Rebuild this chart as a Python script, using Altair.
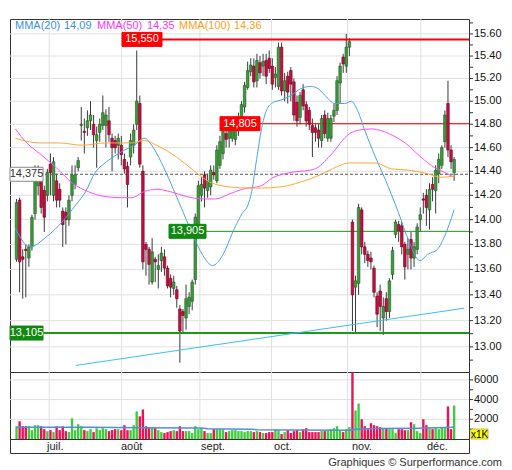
import altair as alt
import pandas as pd

# ---------------- data ----------------
opens = [13.68, 14.16, 13.70, 13.76, 13.69, 13.78, 14.05, 14.28, 14.37, 14.24,
         14.20, 14.46, 14.20, 14.32, 14.25, 14.07, 14.06, 14.00, 14.20, 14.29,
         14.43, 14.79, 14.74, 14.77, 14.83, 14.80, 14.66, 14.73, 14.79, 14.79,
         14.83, 14.68, 14.66, 14.62, 14.62, 14.50, 14.44, 14.52, 14.62, 14.80,
         14.98, 14.40, 13.80, 13.76, 13.50, 13.68, 13.60, 13.67, 13.70, 13.61,
         13.53, 13.45, 13.44, 13.29, 13.27, 13.22, 13.31, 13.35, 13.52, 13.92,
         14.20, 14.37, 14.24, 14.27, 14.39, 14.32, 14.45, 14.55, 14.72, 14.68,
         14.68, 14.67, 14.75, 14.85, 14.95, 15.12, 15.26, 15.31, 15.18, 15.34,
         15.31, 15.36, 15.38, 15.31, 15.21, 15.13, 15.48, 15.09, 15.22, 15.27,
         15.17, 14.99, 14.86, 15.10, 14.97, 14.92, 14.79, 14.77, 14.75, 14.66,
         14.88, 14.68, 14.68, 14.87, 14.92, 15.16, 15.39, 15.31, 15.48, 13.98,
         13.46, 13.49, 14.08, 13.78, 13.72, 13.69, 13.61, 13.39, 13.43, 13.22,
         13.37, 13.27, 13.56, 13.88, 13.96, 13.95, 13.80, 13.72, 13.84, 13.69,
         13.76, 14.00, 14.17, 14.20, 14.08, 14.29, 14.24, 14.38, 14.45, 14.65,
         14.98, 14.58, 14.39]
highs = [14.17, 14.18, 13.76, 13.80, 13.80, 14.04, 14.45, 14.45, 14.40, 14.28,
         14.42, 14.55, 14.52, 14.38, 14.30, 14.10, 14.10, 14.20, 14.45, 14.45,
         14.52, 14.95, 14.85, 14.92, 15.00, 14.88, 14.78, 14.85, 15.05, 14.93,
         14.95, 14.72, 14.70, 14.72, 14.70, 14.55, 14.48, 14.72, 14.80, 15.45,
         15.05, 14.45, 13.82, 13.78, 13.85, 13.70, 13.72, 13.78, 13.76, 13.63,
         13.56, 13.55, 13.47, 13.32, 13.29, 13.48, 13.42, 13.52, 14.05, 14.32,
         14.35, 14.40, 14.38, 14.45, 14.45, 14.62, 14.70, 14.85, 14.78, 14.80,
         14.80, 14.80, 14.90, 15.00, 15.17, 15.35, 15.38, 15.38, 15.42, 15.40,
         15.42, 15.42, 15.45, 15.38, 15.30, 15.52, 15.52, 15.25, 15.26, 15.30,
         15.20, 15.05, 15.08, 15.15, 15.00, 14.95, 14.85, 14.80, 14.80, 14.88,
         14.92, 14.90, 14.88, 14.98, 15.22, 15.34, 15.42, 15.60, 15.56, 14.00,
         13.55, 14.13, 14.10, 13.82, 13.75, 13.74, 13.63, 13.42, 13.48, 13.38,
         13.42, 13.53, 13.78, 14.00, 13.99, 13.98, 13.82, 13.85, 13.90, 13.82,
         13.97, 14.10, 14.22, 14.25, 14.30, 14.35, 14.45, 14.55, 14.62, 14.92,
         15.18, 14.62, 14.52]
lows = [13.66, 13.42, 13.37, 13.38, 13.62, 13.75, 14.00, 14.20, 14.05, 13.90,
        14.15, 14.20, 14.15, 14.10, 14.10, 13.78, 13.80, 13.95, 14.15, 14.25,
        14.40, 14.66, 14.55, 14.70, 14.75, 14.60, 14.43, 14.65, 14.75, 14.60,
        14.65, 14.40, 14.55, 14.50, 14.45, 14.38, 14.10, 14.45, 14.55, 14.75,
        14.43, 13.60, 13.55, 13.48, 13.48, 13.50, 13.45, 13.58, 13.55, 13.45,
        13.38, 13.40, 13.30, 12.88, 13.11, 13.13, 13.25, 13.28, 13.48, 13.85,
        14.15, 14.10, 14.18, 14.20, 14.33, 14.30, 14.42, 14.50, 14.60, 14.60,
        14.65, 14.62, 14.70, 14.80, 14.90, 15.10, 15.22, 15.12, 15.12, 15.20,
        15.22, 15.15, 15.25, 15.10, 15.12, 15.10, 15.05, 15.00, 14.98, 15.00,
        14.83, 14.78, 14.80, 14.92, 14.78, 14.75, 14.52, 14.65, 14.60, 14.60,
        14.68, 14.65, 14.65, 14.82, 14.88, 14.98, 15.25, 15.25, 15.40, 13.12,
        13.10, 13.40, 13.72, 13.65, 13.62, 13.60, 13.38, 13.15, 13.12, 13.09,
        13.20, 13.22, 13.52, 13.85, 13.82, 13.72, 13.52, 13.60, 13.60, 13.62,
        13.72, 13.90, 14.05, 13.95, 13.92, 14.15, 14.05, 14.30, 14.42, 14.60,
        14.52, 14.42, 14.32]
closes = [14.14, 13.66, 13.68, 13.75, 13.78, 14.02, 14.32, 14.40, 14.10, 14.02,
          14.39, 14.39, 14.48, 14.16, 14.16, 13.96, 14.00, 14.16, 14.37, 14.37,
          14.49, 14.80, 14.73, 14.83, 14.88, 14.71, 14.71, 14.80, 14.90, 14.88,
          14.71, 14.60, 14.60, 14.68, 14.54, 14.42, 14.29, 14.66, 14.75, 15.00,
          14.46, 13.66, 13.76, 13.64, 13.74, 13.66, 13.63, 13.73, 13.61, 13.47,
          13.46, 13.50, 13.37, 13.12, 13.24, 13.37, 13.38, 13.50, 14.02, 14.28,
          14.29, 14.26, 14.32, 14.41, 14.37, 14.58, 14.65, 14.74, 14.67, 14.75,
          14.75, 14.76, 14.83, 14.97, 15.14, 15.27, 15.32, 15.17, 15.36, 15.25,
          15.35, 15.22, 15.29, 15.15, 15.24, 15.48, 15.09, 15.18, 15.08, 15.15,
          14.88, 14.83, 15.05, 14.96, 14.83, 14.80, 14.73, 14.73, 14.68, 14.85,
          14.72, 14.85, 14.85, 14.92, 15.18, 15.31, 15.33, 15.48, 15.53, 13.40,
          13.51, 14.10, 13.78, 13.72, 13.67, 13.66, 13.42, 13.25, 13.31, 13.31,
          13.27, 13.51, 13.75, 13.98, 13.91, 13.78, 13.62, 13.76, 13.69, 13.78,
          13.94, 14.04, 14.16, 14.10, 14.25, 14.25, 14.41, 14.50, 14.60, 14.88,
          14.58, 14.48, 14.50]
volumes = [1300, 1800, 1300, 1300, 1300, 900, 1400, 1400, 1300, 1000,
           800, 900, 700, 1300, 900, 1300, 800, 700, 2100, 900,
           1500, 1300, 900, 800, 1000, 700, 1100, 900, 1100, 1000,
           800, 900, 1000, 1000, 900, 1400, 900, 900, 1400, 2800,
           2300, 3000, 1300, 1200, 1200, 1100, 900, 700, 600, 700,
           800, 900, 800, 1300, 800, 800, 800, 600, 1300, 1000,
           1100, 800, 600, 600, 1000, 1000, 1000, 1000, 700, 800,
           900, 900, 800, 800, 700, 800, 800, 700, 800, 700,
           600, 600, 700, 700, 1000, 900, 500, 700, 900, 600,
           800, 900, 700, 1000, 1100, 700, 700, 700, 700, 800,
           800, 900, 1000, 1100, 1300, 900, 700, 1000, 1200, 6750,
           2900, 3600, 2000, 1300, 1000, 1600, 1400, 1300, 1200, 1100,
           1100, 1000, 1000, 600, 1000, 1000, 900, 900, 1700, 1500,
           800, 600, 2000, 1400, 1100, 1000, 1200, 1000, 1200, 1100,
           3300, 1000, 3400]

mma20_idx = [-0.4, 4.3, 9.7, 15.1, 19.2, 22.4, 25.5, 28.7, 31.9, 35.1, 38.2,
             41.4, 44.6, 47.8, 50.9, 54.1, 57.3, 60.5, 63.6, 66.8, 70.9, 73.2,
             75.1, 76.3, 77.9, 79.5, 81.1, 83.3, 85.8, 89.0, 92.2, 95.4, 97.9,
             100.1, 103.3, 106.5, 108.7, 110.3, 113.1, 116.3, 119.5, 123.9,
             127.1, 130.9, 133.4, 136.6, 138.8, 142.0]
mma20_val = [13.93, 13.78, 13.86, 13.99, 14.12, 14.23, 14.39, 14.47, 14.53,
             14.58, 14.62, 14.68, 14.59, 14.43, 14.25, 14.06, 13.87, 13.71,
             13.63, 13.71, 13.94, 14.05, 14.12, 14.23, 14.50, 14.76, 14.92,
             14.99, 15.01, 15.05, 15.11, 15.13, 15.11, 15.05, 14.98, 14.98,
             15.00, 14.94, 14.74, 14.53, 14.34, 14.06, 13.84, 13.67, 13.72,
             13.76, 13.86, 14.08]
mma50_idx = [-0.4, 3.3, 7.5, 12.9, 18.2, 23.3, 28.7, 34.1, 37.3, 41.4, 45.5,
             49.9, 55.1, 60.5, 64.6, 69.0, 73.2, 79.5, 82.7, 89.0, 95.4, 96.9,
             101.7, 108.1, 111.2, 115.4, 120.8, 126.1, 131.2, 135.7, 139.8, 142.0]
mma50_val = [14.76, 14.64, 14.55, 14.43, 14.30, 14.23, 14.19, 14.18, 14.18,
             14.23, 14.25, 14.23, 14.19, 14.17, 14.17, 14.21, 14.25, 14.28,
             14.34, 14.39, 14.41, 14.42, 14.53, 14.72, 14.75, 14.76, 14.72,
             14.64, 14.52, 14.43, 14.38, 14.35]
mma100_idx = [-0.4, 7.5, 13.8, 21.4, 28.7, 37.3, 41.4, 45.5, 51.9, 57.3, 62.7,
              69.0, 75.4, 79.5, 85.8, 92.2, 98.5, 101.7, 108.1, 112.2, 116.6,
              121.7, 127.1, 133.4, 137.6, 142.0]
mma100_val = [14.68, 14.64, 14.64, 14.62, 14.64, 14.64, 14.66, 14.62, 14.52,
              14.41, 14.31, 14.27, 14.26, 14.26, 14.27, 14.31, 14.37, 14.41,
              14.47, 14.47, 14.47, 14.42, 14.41, 14.38, 14.35, 14.36]

vol_ma_idx = [0, 24, 40, 60, 62, 76, 78, 90, 108, 110, 116, 130, 142]
vol_ma_val = [1200, 1180, 1150, 1120, 1030, 1000, 950, 920, 880, 1000, 1060, 1100, 1200]

trend_idx = [19.2, 145.2]
trend_val = [12.86, 13.296]

level_values = [15.55, 14.805, 14.375, 13.905, 13.105]
level_labels = ["15,550", "14,805", "14,375", "13,905", "13,105"]

legend_names = ["MMA(20)", "MMA(50)", "MMA(100)"]
legend_values = ["14,09", "14,35", "14,36"]

month_names = ["juil.", "août", "sept.", "oct.", "nov.", "déc."]
month_pos = [10.6, 34.1, 59.5, 82.7, 107.4, 131.2]

price_ticks = [round(12.9 + 0.1 * k, 1) for k in range(29)]
price_labelled = [round(13.0 + 0.2 * k, 1) for k in range(14)]
price_labels = ["%.2f" % v for v in price_labelled]
vol_ticks = [1000 * k for k in range(1, 7)]
vol_labelled = [2000, 4000, 6000]
vol_labels = ["2000", "4000", "6000"]

footer = "Graphiques © Surperformance.com"

# ---------------- styles ----------------
FONT = "Liberation Sans"
W, H_MAIN, H_VOL, H_LAB = 459, 353, 67, 14
GRID = "#e0e0e0"
AXIS = "#333333"
UP_BODY, DOWN_BODY = "#3d9b3d", "#c4103f"
UP_EDGE, DOWN_EDGE = "#1d5a1d", "#6d0022"
UP_VOL, DOWN_VOL = "#3fcc3f", "#ee1155"
line_colors = ["#4aa3e6", "#ff4dff", "#ffa733"]
text_colors = ["#3b8fe0", "#ff33ff", "#ffa020"]
legend_name_x = [5, 87, 169]
legend_value_x = [54, 137, 224]

level_styles = [
    dict(line="#ff0000", width=2, dash=None, x0=152, box=(112, 152), fill="#ff0000", edge="#ff0000", text="#ffffff"),
    dict(line="#ee0000", width=1, dash=None, x0=250, box=(210, 250), fill="#ff0000", edge="#ff0000", text="#ffffff"),
    dict(line="#555555", width=1, dash=[3, 2], x0=0, box=(0, 33), fill="#ffffff", edge="#888888", text="#333333"),
    dict(line="#119911", width=1, dash=None, x0=196, box=(159, 196), fill="#118811", edge="#118811", text="#ffffff"),
    dict(line="#1a991a", width=2, dash=None, x0=0, box=(0, 33), fill="#118811", edge="#118811", text="#ffffff"),
]

# ---------------- tables ----------------
n = len(closes)
candles = pd.DataFrame({"i": list(range(n)), "open": opens, "high": highs,
                        "low": lows, "close": closes, "volume": volumes})

xs = alt.Scale(domain=[-0.5, 145.2], nice=False, zero=False)
ys = alt.Scale(type="log", domain=[12.811, 15.736], nice=False)
vs = alt.Scale(domain=[0, 6800], nice=False)

up_test = "datum.close >= datum.open"
months_df = pd.DataFrame({"pos": month_pos, "name": month_names})


def right_axis(ticks, labelled, labels, scale):
    tick_layer = alt.Chart(pd.DataFrame({"v": ticks})).mark_rule(color=AXIS, strokeWidth=1).encode(
        x=alt.value(W), x2=alt.value(W + 4), y=alt.Y("v:Q", scale=scale, axis=None))
    grid_layer = alt.Chart(pd.DataFrame({"v": labelled})).mark_rule(color=GRID, strokeWidth=1).encode(
        x=alt.value(0), x2=alt.value(W), y=alt.Y("v:Q", scale=scale, axis=None))
    label_layer = alt.Chart(pd.DataFrame({"v": labelled, "t": labels})).mark_text(
        font=FONT, fontSize=11, color="#111", align="left", baseline="middle").encode(
        x=alt.value(W + 5), y=alt.Y("v:Q", scale=scale, axis=None), text="t:N")
    return grid_layer, tick_layer, label_layer


p_grid, p_ticks, p_labels = right_axis(price_ticks, price_labelled, price_labels, ys)
v_grid, v_ticks, v_labels = right_axis(vol_ticks, vol_labelled, vol_labels, vs)

vgrid_main = alt.Chart(months_df).mark_rule(color=GRID, strokeWidth=1).encode(
    x=alt.X("pos:Q", scale=xs, axis=None), y=alt.value(0), y2=alt.value(H_MAIN))

wicks = alt.Chart(candles).mark_rule(color="#3a3a3a", strokeWidth=1).encode(
    x=alt.X("i:Q", scale=xs, axis=None),
    y=alt.Y("low:Q", scale=ys, axis=None),
    y2="high:Q")
bodies = alt.Chart(candles).mark_bar(size=2.6, strokeWidth=0.6).encode(
    x=alt.X("i:Q", scale=xs, axis=None),
    y=alt.Y("open:Q", scale=ys, axis=None),
    y2="close:Q",
    color=alt.condition(up_test, alt.value(UP_BODY), alt.value(DOWN_BODY)),
    stroke=alt.condition(up_test, alt.value(UP_EDGE), alt.value(DOWN_EDGE)))

mma_layers = []
for k, (ii, vv) in enumerate([(mma20_idx, mma20_val), (mma50_idx, mma50_val), (mma100_idx, mma100_val)]):
    d = pd.DataFrame({"i": ii, "v": vv})
    mma_layers.append(alt.Chart(d).mark_line(color=line_colors[k], strokeWidth=1, interpolate="monotone").encode(
        x=alt.X("i:Q", scale=xs, axis=None), y=alt.Y("v:Q", scale=ys, axis=None)))

trend = alt.Chart(pd.DataFrame({"i": trend_idx, "v": trend_val})).mark_line(
    color="#3cbff0", strokeWidth=1).encode(
    x=alt.X("i:Q", scale=xs, axis=None), y=alt.Y("v:Q", scale=ys, axis=None))

level_lines, level_boxes = [], []
for k, v in enumerate(level_values):
    st = level_styles[k]
    d = pd.DataFrame({"v": [v], "t": [level_labels[k]]})
    rule_kw = dict(color=st["line"], strokeWidth=st["width"])
    if st["dash"]:
        rule_kw["strokeDash"] = st["dash"]
    level_lines.append(alt.Chart(d).mark_rule(**rule_kw).encode(
        x=alt.value(st["x0"]), x2=alt.value(W),
        y=alt.Y("v:Q", scale=ys, axis=None)))
    level_boxes.append(alt.Chart(d).mark_rect(fill=st["fill"], stroke=st["edge"], strokeWidth=1,
                                              yOffset=-7, y2Offset=7).encode(
        x=alt.value(st["box"][0]), x2=alt.value(st["box"][1]),
        y=alt.Y("v:Q", scale=ys, axis=None), y2="v:Q"))
    level_boxes.append(alt.Chart(d).mark_text(color=st["text"], font=FONT, fontSize=11,
                                              align="center", baseline="middle").encode(
        x=alt.value((st["box"][0] + st["box"][1]) / 2),
        y=alt.Y("v:Q", scale=ys, axis=None), text="t:N"))

legend_layers = []
for k in range(3):
    d = pd.DataFrame({"name": [legend_names[k]], "val": [legend_values[k]]})
    legend_layers.append(alt.Chart(d).mark_text(color=text_colors[k], font=FONT, fontSize=11,
                                                align="left", baseline="middle").encode(
        x=alt.value(legend_name_x[k]), y=alt.value(7), text="name:N"))
    legend_layers.append(alt.Chart(d).mark_text(color=text_colors[k], font=FONT, fontSize=11,
                                                align="left", baseline="middle").encode(
        x=alt.value(legend_value_x[k]), y=alt.value(7), text="val:N"))

main = alt.layer(vgrid_main, p_grid, wicks, *level_lines, trend, bodies, *mma_layers,
                 *level_boxes, *legend_layers, p_ticks, p_labels).properties(width=W, height=H_MAIN)

# ---------------- volume ----------------
vgrid_vol = alt.Chart(months_df).mark_rule(color=GRID, strokeWidth=1).encode(
    x=alt.X("pos:Q", scale=xs, axis=None), y=alt.value(0), y2=alt.value(H_VOL))
vbars = alt.Chart(candles).mark_bar(size=2.4).encode(
    x=alt.X("i:Q", scale=xs, axis=None),
    y=alt.Y("volume:Q", scale=vs, axis=None),
    color=alt.condition(up_test, alt.value(UP_VOL), alt.value(DOWN_VOL)))
vma = alt.Chart(pd.DataFrame({"i": vol_ma_idx, "v": vol_ma_val})).mark_line(
    color="#4f8fdc", strokeWidth=1.5).encode(
    x=alt.X("i:Q", scale=xs, axis=None), y=alt.Y("v:Q", scale=vs, axis=None))
unit_df = pd.DataFrame({"t": ["x1K"]})
unit_box = alt.Chart(unit_df).mark_rect(fill="#ffff00", stroke="#999900", strokeWidth=0.6).encode(
    x=alt.value(461), x2=alt.value(478), y=alt.value(57), y2=alt.value(67))
unit_txt = alt.Chart(unit_df).mark_text(font=FONT, fontSize=10, color="#000",
                                        align="center", baseline="middle").encode(
    x=alt.value(469.5), y=alt.value(62.5), text="t:N")

vol = alt.layer(vgrid_vol, v_grid, vbars, vma, v_ticks, v_labels, unit_box, unit_txt).properties(
    width=W, height=H_VOL)

# ---------------- month label row ----------------
labels_row = alt.Chart(months_df).mark_text(
    align="left", baseline="middle", dx=2, font=FONT, fontSize=11, color="#222").encode(
    x=alt.X("pos:Q", scale=xs, axis=None), y=alt.value(7.5), text="name:N").properties(
    width=W, height=H_LAB)

chart = alt.vconcat(main, vol, labels_row, spacing=0, bounds="flush").resolve_scale(
    x="independent", y="independent").properties(
    title=alt.TitleParams(footer, orient="bottom", anchor="end", fontSize=11, font=FONT,
                          fontWeight="normal", color="#333", offset=3),
    padding={"left": 0, "top": 10, "right": 0, "bottom": 0}
).configure_view(stroke="#333", strokeWidth=1)

chart.save("out.html", embed_options={"renderer": "svg", "actions": False})
